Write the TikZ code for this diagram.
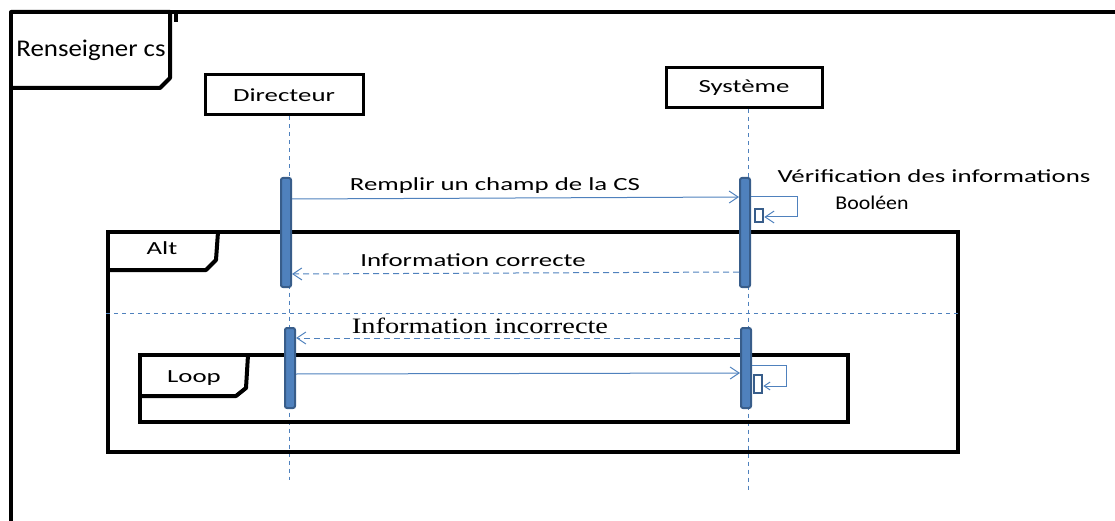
\documentclass[tikz,border=0pt]{standalone}
\usepackage{fontspec}
\setmainfont{Carlito}
\newfontfamily\lblfont[FakeStretch=1.45]{Carlito}
\newfontfamily\titlefont[FakeStretch=1.12]{Carlito}
\newfontfamily\serifwide[FakeStretch=1.29]{Liberation Serif}
\usetikzlibrary{arrows.meta}
\definecolor{lifeblue}{RGB}{79,129,189}
\definecolor{bardark}{RGB}{56,93,138}
\tikzset{
  framebox/.style={draw=black,line width=4pt,inner sep=0pt},
  frameline/.style={draw=black,line width=4pt,line join=round},
  actor/.style={draw=black,line width=3pt,inner sep=0pt,minimum height=40pt,
    font=\lblfont\fontsize{18.5}{22}\selectfont},
  lifeline/.style={draw=lifeblue,line width=1pt,dash pattern=on 4pt off 4pt},
  actbar/.style={draw=bardark,fill=lifeblue,line width=2pt,rounded corners=2pt,
    minimum width=10pt,inner sep=0pt},
  selfbox/.style={draw=bardark,fill=white,line width=2.5pt,minimum width=8pt,inner sep=0pt},
  msg/.style={draw=lifeblue,line width=1pt,-{Straight Barb[length=9pt,width=12pt]}},
  reply/.style={msg,dash pattern=on 6pt off 4pt},
  lbl/.style={font=\lblfont\fontsize{18.5}{22}\selectfont,inner sep=1pt}
}
\begin{document}
\begin{tikzpicture}[x=1pt,y=-1pt]
\useasboundingbox (0,0) rectangle (1115,521);

% Drawing outer frame
\draw[frameline] (11,521) -- (11,12) -- (1115,12);%
\draw[frameline] (11,12) -- (170,12) -- (170,78) -- (160,88) -- (11,88);%
\draw[line width=4pt] (176,12) -- (176,22);%
\node[font=\titlefont\fontsize{24}{28}\selectfont,inner sep=0pt] (title) at (91,50) {Renseigner cs};%

% Drawing actors
\node[actor,minimum width=158pt] (dir) at (284,95) {Directeur};%
\node[actor,minimum width=156pt] (sys) at (744,88) {Système};%

% Drawing lifelines
\coordinate (dirend) at (289,480);%
\coordinate (sysend) at (748,490);%
\draw[lifeline] (dir.south -| dirend) -- (dirend);%
\draw[lifeline] (sys.south -| sysend) -- (sysend);%

% Drawing frames alt and loop
\node[framebox,minimum width=850pt,minimum height=220pt] (alt) at (533,342) {};%
\draw[frameline] (alt.north west) ++(0,40) -- ++(100,0) -- ++(10,-10) -- (218,232);%
\node[lbl] (altlbl) at (162,248) {Alt};%
\draw[lifeline] (alt.west |- 0,313) -- (alt.east |- 0,313);%
\node[framebox,minimum width=708pt,minimum height=67pt] (loop) at (494,388.5) {};%
\draw[frameline] (loop.north west) ++(0,43) -- ++(98,0) -- ++(10,-8) -- (248,355);%
\node[lbl] (looplbl) at (194,378) {Loop};%

% Drawing activation bars
\node[actbar,minimum height=109pt] (dirbarA) at (286,232.5) {};%
\node[actbar,minimum height=109pt] (sysbarA) at (745,232.5) {};%
\node[actbar,minimum height=80pt] (dirbarB) at (290,368) {};%
\node[actbar,minimum height=80pt] (sysbarB) at (746,368) {};%
\node[selfbox,minimum height=13pt] (selfA) at (759,215.5) {};%
\node[selfbox,minimum height=18pt] (selfB) at (758,384) {};%

% Drawing messages
\draw[msg] (dirbarA.east |- 0,199) -- (sysbarA.west |- 0,197);%
\node[lbl] (m1) at (495,186) {Remplir un champ de la CS};%
\draw[msg] (sysbarA.east |- 0,197) -- (797,197) -- (797,217) -- (selfA.east |- 0,217);%
\node[lbl] (verif) at (934,176) {Vérification des informations};%
\node[lbl,font=\titlefont\fontsize{19.5}{23}\selectfont] (bool) at (872,203) {Booléen};%
\draw[reply] (sysbarA.west |- 0,272) -- (dirbarA.east |- 0,274);%
\node[lbl] (m2) at (473,260) {Information correcte};%
\draw[reply] (sysbarB.west |- 0,338) -- (dirbarB.east |- 0,338);%
\node[font=\serifwide\fontsize{22}{26}\selectfont,inner sep=0pt] (m3) at (480,326) {Information incorrecte};%
\draw[msg] (dirbarB.east |- 0,374) -- (sysbarB.west |- 0,373);%
\draw[msg,-{Straight Barb[length=6pt,width=8pt]}] (sysbarB.east |- 0,365) -- (786,365) -- (786,386) -- (selfB.east |- 0,386);%
\end{tikzpicture}
\end{document}
